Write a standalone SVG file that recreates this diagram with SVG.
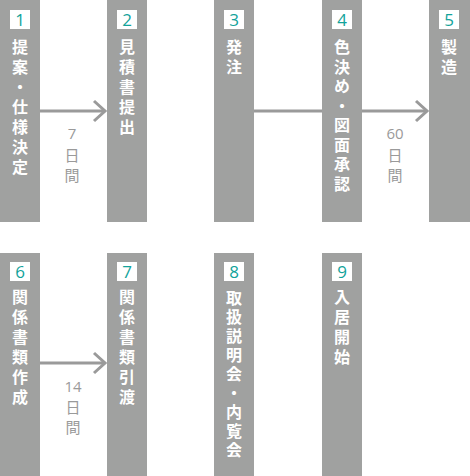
<svg xmlns="http://www.w3.org/2000/svg" width="470" height="476" viewBox="0 0 470 476">
<style>
.bar{fill:#a0a1a0}
.box{fill:#ffffff}
.num{font-family:"Open Sans","Noto Sans",sans-serif;font-size:17px;fill:#12a39b;text-anchor:middle}
.lbl{font-family:"Noto Sans CJK JP",sans-serif;font-size:16px;font-weight:bold;fill:#ffffff;writing-mode:vertical-rl;text-orientation:upright;letter-spacing:4px}
.days{font-family:"Noto Sans CJK JP",sans-serif;font-size:15px;fill:#9a9a9a;writing-mode:vertical-rl;text-orientation:upright;letter-spacing:5px}
.dn{font-family:"Open Sans","Noto Sans",sans-serif;font-size:15px;fill:#9a9a9a;text-anchor:middle}
.ln{stroke:#9a9a9a;stroke-width:3;fill:none}
</style>
<g id="connectors">
<line class="ln" x1="40" y1="111" x2="105" y2="111"/>
<polyline class="ln" points="94,101 105,111 94,121"/>
<text class="dn" x="72" y="139">7</text>
<text class="days" x="72" y="147.5">日間</text>
<line class="ln" x1="254" y1="111" x2="427" y2="111"/>
<polyline class="ln" points="416,101 427,111 416,121"/>
<text class="dn" x="395" y="139">60</text>
<text class="days" x="395" y="147.5">日間</text>
<line class="ln" x1="40" y1="363" x2="105" y2="363"/>
<polyline class="ln" points="94,353 105,363 94,373"/>
<text class="dn" x="73" y="392">14</text>
<text class="days" x="73" y="400">日間</text>
</g>
<g id="node1">
<rect class="bar" x="0" y="0" width="40" height="222"/>
<rect class="box" x="10" y="10" width="20" height="19"/>
<text class="num" x="20" y="26">1</text>
<text class="lbl" x="20" y="39">提案・仕様決定</text>
</g>
<g id="node2">
<rect class="bar" x="107" y="0" width="40" height="222"/>
<rect class="box" x="117" y="10" width="20" height="19"/>
<text class="num" x="127" y="26">2</text>
<text class="lbl" x="127" y="39">見積書提出</text>
</g>
<g id="node3">
<rect class="bar" x="214" y="0" width="40" height="222"/>
<rect class="box" x="224" y="10" width="20" height="19"/>
<text class="num" x="234" y="26">3</text>
<text class="lbl" x="234" y="39">発注</text>
</g>
<g id="node4">
<rect class="bar" x="322" y="0" width="40" height="222"/>
<rect class="box" x="332" y="10" width="20" height="19"/>
<text class="num" x="342" y="26">4</text>
<text class="lbl" x="342" y="39" style="letter-spacing:3.5px">色決め・図面承認</text>
</g>
<g id="node5">
<rect class="bar" x="429" y="0" width="41" height="222"/>
<rect class="box" x="439" y="10" width="20" height="19"/>
<text class="num" x="449" y="26">5</text>
<text class="lbl" x="449" y="39">製造</text>
</g>
<g id="node6">
<rect class="bar" x="0" y="253" width="40" height="223"/>
<rect class="box" x="10" y="262" width="20" height="19"/>
<text class="num" x="20" y="278">6</text>
<text class="lbl" x="20" y="289">関係書類作成</text>
</g>
<g id="node7">
<rect class="bar" x="107" y="253" width="40" height="223"/>
<rect class="box" x="117" y="262" width="20" height="19"/>
<text class="num" x="127" y="278">7</text>
<text class="lbl" x="127" y="289">関係書類引渡</text>
</g>
<g id="node8">
<rect class="bar" x="214" y="253" width="40" height="223"/>
<rect class="box" x="224" y="262" width="20" height="19"/>
<text class="num" x="234" y="278">8</text>
<text class="lbl" x="234" y="290" style="letter-spacing:3px">取扱説明会・内覧会</text>
</g>
<g id="node9">
<rect class="bar" x="322" y="253" width="40" height="223"/>
<rect class="box" x="332" y="262" width="20" height="19"/>
<text class="num" x="342" y="278">9</text>
<text class="lbl" x="342" y="289">入居開始</text>
</g>
</svg>
